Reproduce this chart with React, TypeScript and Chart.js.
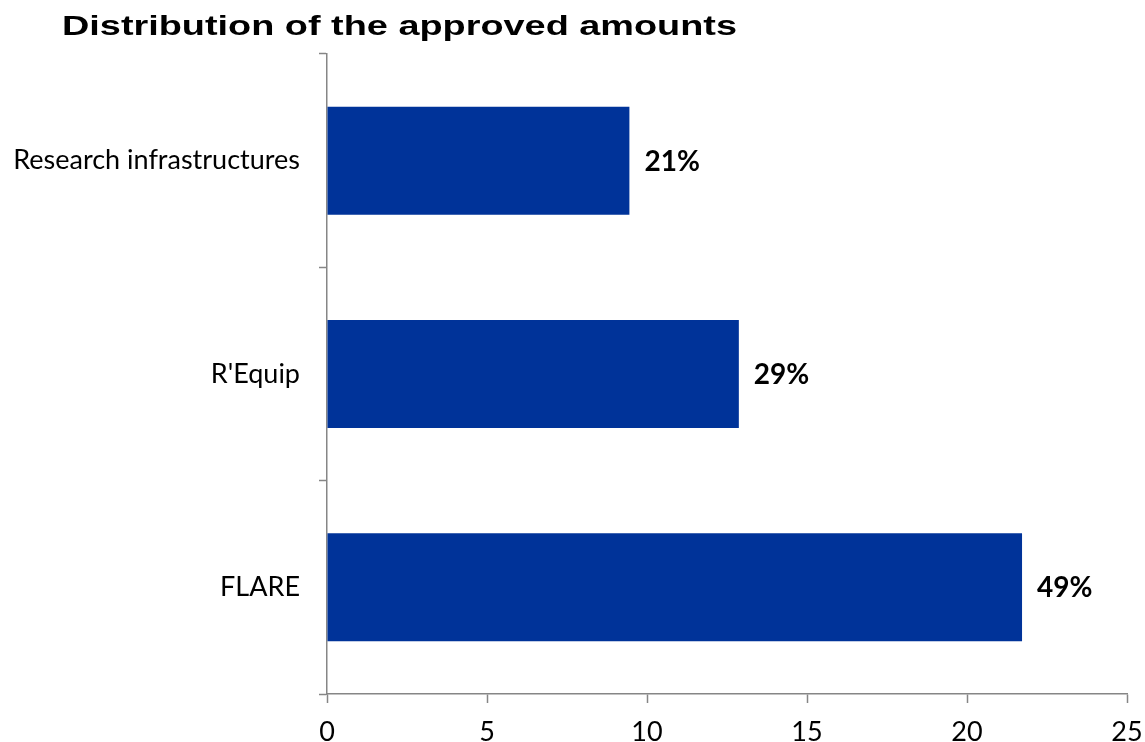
import React, { useEffect, useRef } from "react";
import { Chart, registerables } from "chart.js";

Chart.register(...registerables);

const categories = ["Research infrastructures", "R'Equip", "FLARE"];
const approvedAmounts = [9.45, 12.87, 21.72];
const xTicks = [0, 5, 10, 15, 20, 25];
const titleText = "Distribution of the approved amounts";

const total = approvedAmounts.reduce((a, b) => a + b, 0);
const percentLabels = approvedAmounts.map((v) => Math.round((v / total) * 100) + "%");

const overlayPlugin = {
  id: "overlay",
  afterDraw(chart: any) {
    const ctx = chart.ctx;
    ctx.save();
    // title (horizontally stretched to match)
    ctx.fillStyle = "#000";
    ctx.font = "bold 28px 'Liberation Sans', Arial, sans-serif";
    ctx.textAlign = "left";
    ctx.textBaseline = "alphabetic";
    const w = ctx.measureText(titleText).width;
    const sx = 675 / w;
    ctx.save();
    ctx.translate(62, 35);
    ctx.scale(sx, 1);
    ctx.fillText(titleText, 0, 0);
    ctx.restore();
    // value labels
    const meta = chart.getDatasetMeta(0);
    ctx.font = "bold 28px Lato, sans-serif";
    ctx.textBaseline = "middle";
    meta.data.forEach((bar: any, i: number) => {
      ctx.fillText(percentLabels[i], bar.x + 15, bar.y + 1);
    });
    ctx.restore();
  },
};

export default function App() {
  const ref = useRef<HTMLCanvasElement | null>(null);
  useEffect(() => {
    document.body.style.margin = "0";
    const chart = new Chart(ref.current!, {
      type: "bar",
      data: {
        labels: categories,
        datasets: [
          {
            data: approvedAmounts,
            backgroundColor: "#003399",
            borderWidth: 0,
            barPercentage: 0.506,
            categoryPercentage: 1,
          },
        ],
      },
      options: {
        indexAxis: "y",
        animation: false,
        responsive: false,
        maintainAspectRatio: false,
        layout: { padding: { top: 54, right: 18, bottom: 0, left: 0 } },
        plugins: { legend: { display: false }, title: { display: false }, tooltip: { enabled: false } },
        scales: {
          x: {
            min: 0,
            max: 25,
            afterBuildTicks(scale: any) {
              scale.ticks = xTicks.map((v) => ({ value: v }));
            },
            afterFit(scale: any) {
              scale.height = 48;
              scale.paddingLeft = 0;
              scale.paddingRight = 0;
            },
            grid: { drawOnChartArea: false, drawTicks: true, tickLength: 9, tickColor: "#868686", tickWidth: 1.5 },
            border: { color: "#868686", width: 1.5 },
            ticks: { color: "#000", font: { family: "Lato", size: 27 }, padding: 13, maxRotation: 0 },
          },
          y: {
            afterFit(scale: any) {
              scale.width = 327;
              scale.paddingTop = 0;
              scale.paddingBottom = 0;
            },
            grid: { drawOnChartArea: false, drawTicks: true, tickLength: 8, tickColor: "#868686", tickWidth: 1.5, offset: true },
            border: { color: "#868686", width: 1.5 },
            ticks: { color: "#000", font: { family: "Lato", size: 27 }, padding: 19 },
          },
        },
      },
      plugins: [overlayPlugin],
    });
    return () => chart.destroy();
  }, []);
  return <canvas ref={ref} width={1145} height={742} style={{ display: "block" }} />;
}
